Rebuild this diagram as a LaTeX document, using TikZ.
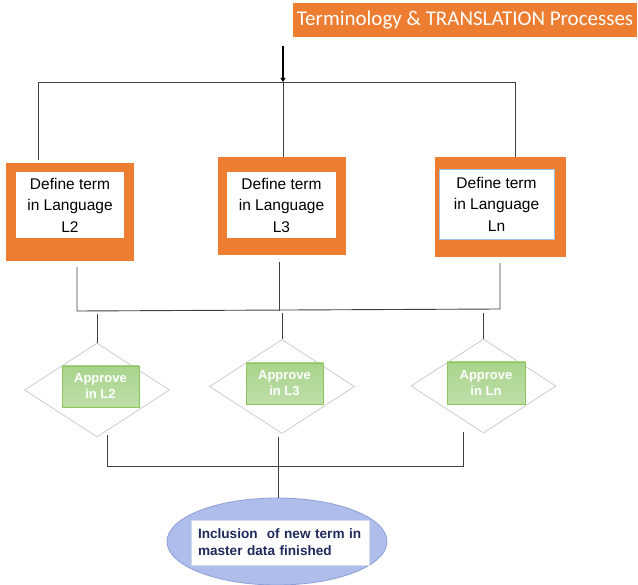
\documentclass[tikz,border=0pt]{standalone}
\usepackage{fontspec}
\setmainfont{Liberation Sans}
\newfontfamily\titlefont{Carlito}
\usetikzlibrary{shapes.geometric,arrows.meta}
\definecolor{orng}{HTML}{ED7D31}
\definecolor{linegray}{HTML}{404040}
\definecolor{diagray}{HTML}{CCCCCC}
\definecolor{gfill}{HTML}{A9D48C}
\definecolor{gdraw}{HTML}{8CC65A}
\definecolor{efill}{HTML}{AEBDEA}
\definecolor{edraw}{HTML}{8E9FD8}
\definecolor{navy}{HTML}{1F2A5C}
\definecolor{innerblue}{HTML}{9DC3E6}
\tikzset{
  outerbox/.style={rectangle, draw=orng, fill=orng, inner sep=0pt},
  innerbox/.style={rectangle, fill=white, inner sep=0pt, align=center,
    font=\fontsize{15.5}{21.5}\selectfont},
  conn/.style={draw=linegray, line width=0.9pt},
  decision/.style={diamond, draw=diagray, line width=0.8pt, inner sep=0pt,
    minimum width=145pt, minimum height=94pt},
  approvebox/.style={rectangle, top color=gfill, bottom color=gfill!75!white, draw=gdraw, line width=0.8pt,
    text=white, align=center, inner sep=0pt, minimum width=77pt, minimum height=41pt,
    font=\bfseries\fontsize{13}{16}\selectfont},
}
\begin{document}
\begin{tikzpicture}[x=1pt,y=-1pt]
\useasboundingbox (0,0) rectangle (638,585);
% title
\node[rectangle, fill=orng, inner sep=0pt, minimum width=344pt, minimum height=34pt,
  text=white, font=\titlefont\fontsize{21}{24}\selectfont] (title) at (465,20)
  {Terminology \& TRANSLATION Processes};
% define boxes
\node[outerbox, minimum width=127pt, minimum height=97pt] (L2o) at (69.5,211.5) {};
\node[innerbox, minimum width=108pt, minimum height=66pt] (L2i) at (70,205) {Define term\\in Language\\L2};
\node[outerbox, minimum width=127pt, minimum height=97pt] (L3o) at (281.5,205.5) {};
\node[innerbox, minimum width=109pt, minimum height=66pt] (L3i) at (281.5,205) {Define term\\in Language\\L3};
\node[outerbox, minimum width=130pt, minimum height=99pt] (Lno) at (500,206.5) {};
\node[innerbox, draw=innerblue, line width=0.8pt, minimum width=115pt, minimum height=70pt] (Lni) at (496.5,204) {Define term\\in Language\\Ln};
% top connectors
\coordinate (start) at (283,46);
\coordinate (busL) at (38,82);
\coordinate (busM) at (283,82);
\coordinate (busR) at (515,82);
\draw[conn, shorten <=3pt] (L2o.north -| busL) |- (busR) -- (Lno.north -| busR);
\draw[conn] (busM) -- (L3o.north -| busM);
\draw[draw=black, line width=2.6pt, -{Triangle[length=4pt,width=5pt]}] (start) -- (busM);
% decisions
\node[decision] (D2) at (97,390) {};
\node[decision] (D3) at (282,386.5) {};
\node[decision] (Dn) at (483.5,386) {};
\node[approvebox] (G2) at (100.5,386.5) {Approve\\in L2};
\node[approvebox] (G3) at (284.5,383.5) {Approve\\in L3};
\node[approvebox, minimum width=78pt, minimum height=42pt] (Gn) at (486,383) {Approve\\in Ln};
% middle connectors
\coordinate (m2) at (77,311);
\coordinate (m3) at (279,311);
\coordinate (mn) at (500,309);
\draw[conn, shorten <=7pt, shorten >=7pt] (L2o.south -| m2) -- (m2) -- (mn) -- (Lno.south -| mn);
\draw[conn, shorten <=8pt] (L3o.south -| m3) -- (m3);
\draw[conn, shorten <=3pt] (D2.north |- m2) -- (D2.north);
\draw[conn, shorten <=2pt] (D3.north |- m3) -- (D3.north);
\draw[conn, shorten <=4pt] (Dn.north |- mn) -- (Dn.north);
% ellipse
\node[ellipse, fill=efill, draw=edraw, line width=0.8pt, inner sep=0pt,
  minimum width=220pt, minimum height=87pt] (E) at (277,541.5) {};
\node[rectangle, fill=white, draw=edraw!40, line width=0.6pt, inner sep=0pt,
  minimum width=178pt, minimum height=45pt, text width=164pt, align=left,
  text=navy, font=\bfseries\fontsize{13.6}{17}\selectfont] (Ei) at (280,542.5)
  {Inclusion\ \ of new term in\\master data finished};
% bottom connectors
\coordinate (b2) at (107,466);
\coordinate (b3) at (278,466);
\coordinate (bn) at (463,466);
\draw[conn] (D2.south -| b2) ++(0,-2) -- (b2) -- (bn) -- ++(0,-34);
\draw[conn, shorten <=3pt] (D3.south -| b3) -- (b3);
\draw[conn] (b3) -- (E.north -| b3);
\end{tikzpicture}
\end{document}
